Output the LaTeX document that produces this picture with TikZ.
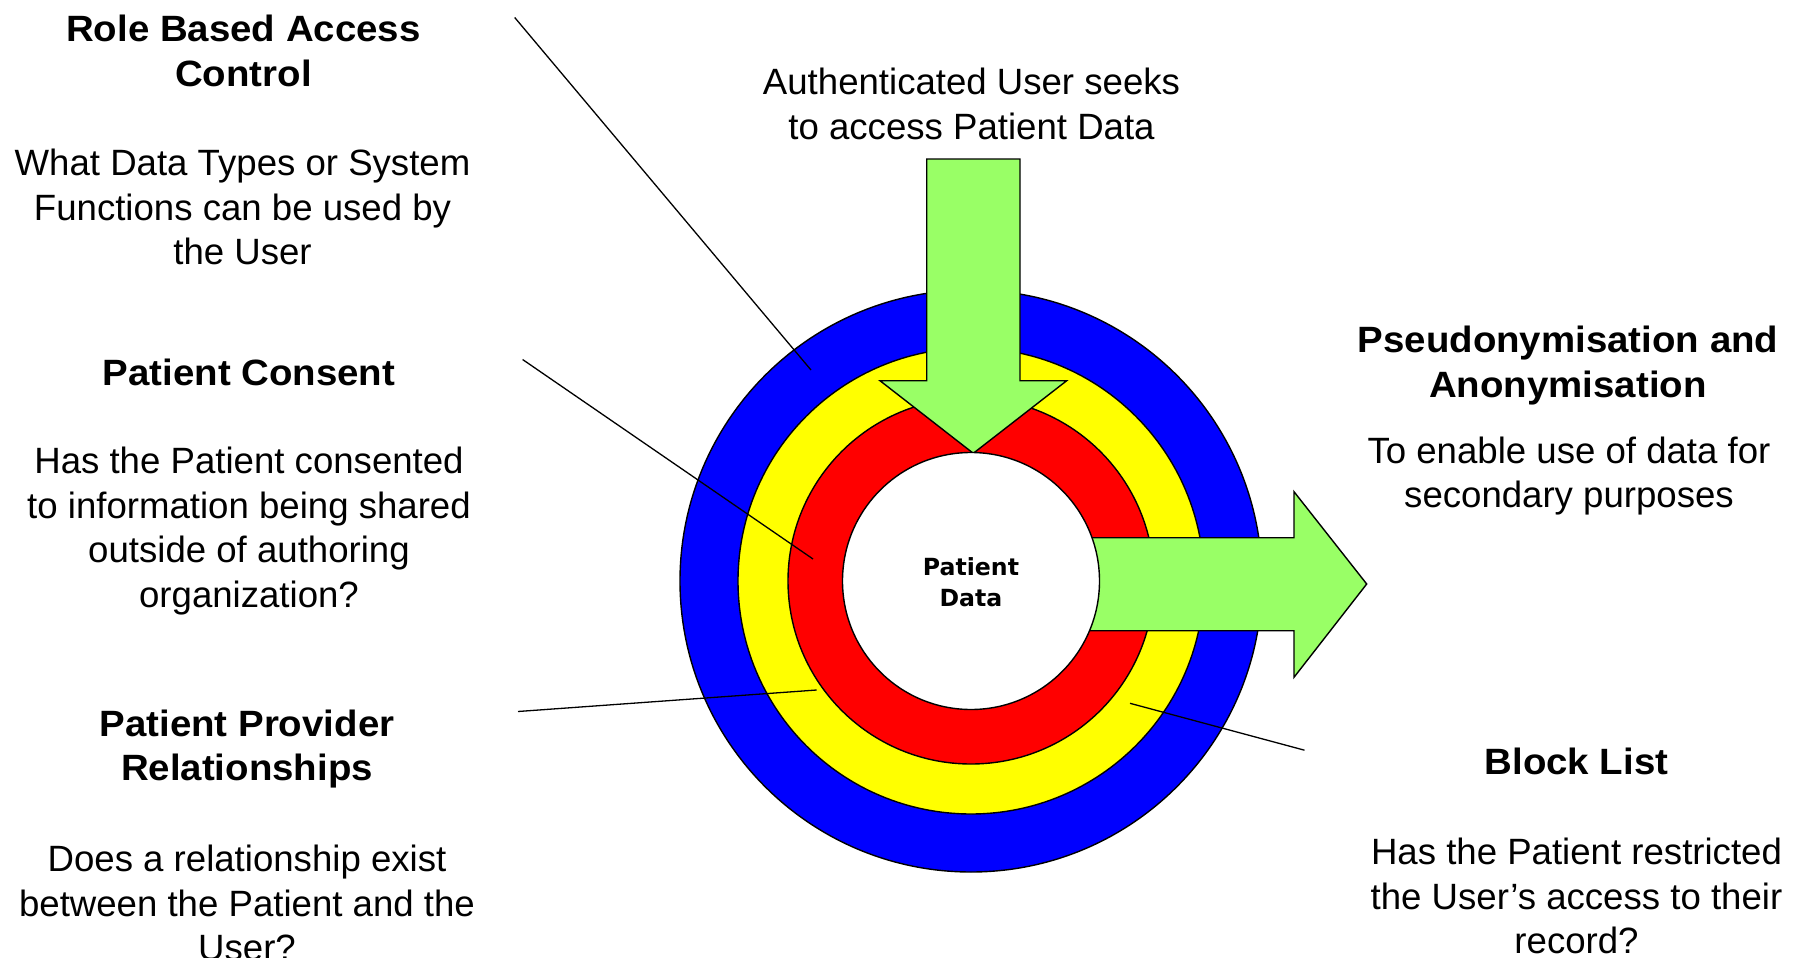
\documentclass[tikz,border=0pt]{standalone}
\usepackage{fontspec}
\setmainfont[BoldFeatures={FakeStretch=1.05}]{Liberation Sans}
\newfontfamily\corefont{DejaVu Sans}

\definecolor{ringblue}{RGB}{0,0,255}
\definecolor{ringyellow}{RGB}{255,255,0}
\definecolor{ringred}{RGB}{255,0,0}
\definecolor{arrowgreen}{RGB}{153,255,102}

\tikzset{
  ring/.style={draw=black, line width=0.7pt},
  bigarrow/.style={draw=black, line width=0.7pt, fill=arrowgreen},
  leader/.style={draw=black, line width=0.65pt},
  headtxt/.style={align=center, inner sep=0pt, font=\fontsize{18.3pt}{22.2pt}\selectfont\bfseries},
  bodytxt/.style={align=center, inner sep=0pt, font=\fontsize{18.3pt}{22.2pt}\selectfont},
}

\begin{document}
\begin{tikzpicture}[x=0.5pt, y=-0.5pt]
    \useasboundingbox (0,0) rectangle (1801,958);

    % Rings round the patient data
    \coordinate (centre) at (971,581);
    \fill[ringblue, ring] (centre) circle [radius=145.5pt];
    \fill[ringyellow, ring] (centre) circle [radius=116.5pt];
    \fill[ringred, ring] (centre) circle [radius=91.5pt];

    % Access arrow (in) and secondary use arrow (out)
    \draw[bigarrow] (926.7,159) -- (1020,159) -- (1020,380.7) -- (1066.7,380.7)
        -- (973.3,453.3) -- (880,380.7) -- (926.7,380.7) -- cycle;
    \draw[bigarrow] (971,537.7) -- (1294,537.7) -- (1294,491.7) -- (1366.7,584)
        -- (1294,677.3) -- (1294,630.7) -- (971,630.7) -- cycle;

    % Patient data core
    \fill[white, ring] (centre) circle [radius=64.25pt];
    \node[align=center, inner sep=0pt, font=\corefont\fontsize{11.8pt}{15.5pt}\selectfont\bfseries]
        (core) at (971,582) {Patient\\Data};

    % Left column
    \node[headtxt] (rbacHead) at (243.5,51) {Role Based Access\\Control};
    \node[bodytxt] (rbacBody) at (242.5,207) {What Data Types or System\\Functions can be used by\\the User};
    \node[headtxt] (consentHead) at (249,372) {Patient Consent};
    \node[bodytxt] (consentBody) at (249,531) {Has the Patient consented\\to information being shared\\outside of authoring\\organization?};
    \node[headtxt] (pprHead) at (247,749) {Patient Provider\\Relationships};
    \node[bodytxt] (pprBody) at (247,903) {Does a relationship exist\\between the Patient and the\\User?};

    % Top and right column
    \node[bodytxt] (userText) at (971.5,104) {Authenticated User seeks\\to access Patient Data};
    \node[headtxt] (pseudoHead) at (1568,365.5) {Pseudonymisation and\\Anonymisation};
    \node[bodytxt] (pseudoBody) at (1569,476) {To enable use of data for\\secondary purposes};
    \node[headtxt] (blockHead) at (1576.5,761) {Block List};
    \node[bodytxt] (blockBody) at (1576.5,896) {Has the Patient restricted\\the User’s access to their\\record?};

    % Leader lines into the rings
    \coordinate (rbacFrom) at (514.7,17.5);
    \coordinate (rbacTo) at (811,370);
    \coordinate (consentFrom) at (522.6,359.5);
    \coordinate (consentTo) at (813,559);
    \coordinate (pprFrom) at (518,711.5);
    \coordinate (pprTo) at (816.7,690);
    \coordinate (blockFrom) at (1130,703.3);
    \coordinate (blockTo) at (1304.5,750.2);
    \draw[leader] (rbacFrom) -- (rbacTo);
    \draw[leader] (consentFrom) -- (consentTo);
    \draw[leader] (pprFrom) -- (pprTo);
    \draw[leader] (blockFrom) -- (blockTo);

\end{tikzpicture}
\end{document}
